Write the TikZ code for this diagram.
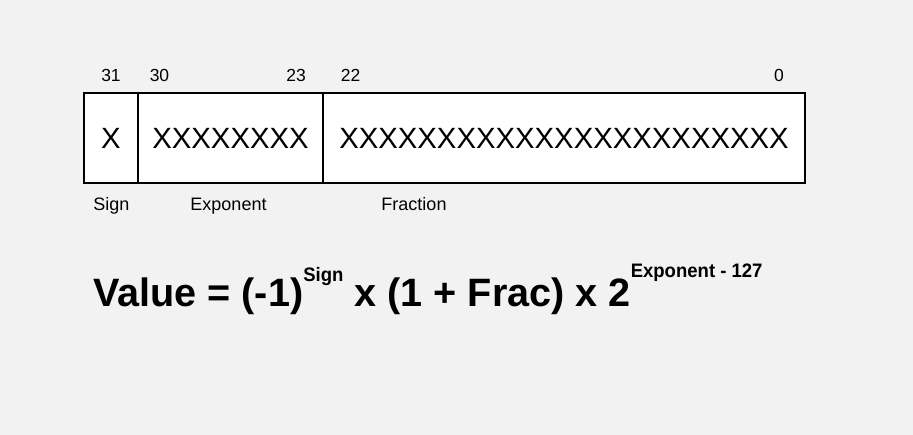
\documentclass[tikz,border=0pt]{standalone}
\usepackage{fontspec}
\setmainfont{Liberation Sans}
\usetikzlibrary{positioning}

\definecolor{pagegray}{HTML}{F2F2F2}

\begin{document}
\begin{tikzpicture}[x=1pt,y=-1pt,
    field/.style={draw=black,line width=1.4pt,fill=white,inner sep=0pt,outer sep=0pt,
        minimum height=90pt,font=\fontsize{29.3}{30}\selectfont},
    bitnum/.style={anchor=base,inner sep=0pt,font=\fontsize{17.5}{18}\selectfont},
    fieldname/.style={anchor=base,inner sep=0pt,font=\fontsize{18}{18}\selectfont}]
    % Page and margins
    \useasboundingbox (0,0) rectangle (913,435);
    \fill[pagegray] (0,0) rectangle (913,435);

    % The three fields of the word
    \node[field,minimum width=54pt] (sign) at (111,138) {X};
    \node[field,minimum width=185pt,right=0pt of sign] (exponent) {XXXXXXXX};
    \node[field,minimum width=482pt,right=0pt of exponent] (fraction) {XXXXXXXXXXXXXXXXXXXXXXX};

    % Bit positions
    \foreach \pos/\bit in {111/31,159.5/30,296/23,350.5/22,779/0} {
        \node[bitnum] (bit\bit) at (\pos,82) {\bit};
    }

    % Field names
    \node[fieldname] (signlabel) at (111.5,211) {Sign};
    \node[fieldname] (explabel) at (228.5,211) {Exponent};
    \node[fieldname] (fraclabel) at (414,211) {Fraction};

    % Value formula
    \node[anchor=base west,inner sep=0pt,font=\fontsize{39.6}{40}\selectfont\bfseries] (formula) at (93,307)
        {Value = (-1)\raisebox{25pt}{\fontsize{19.5}{19}\selectfont\scalebox{0.95}[1]{Sign}} x (1 + Frac) x 2\raisebox{29pt}{\fontsize{19.5}{19}\selectfont\scalebox{0.95}[1]{Exponent - 127}}};
\end{tikzpicture}
\end{document}
